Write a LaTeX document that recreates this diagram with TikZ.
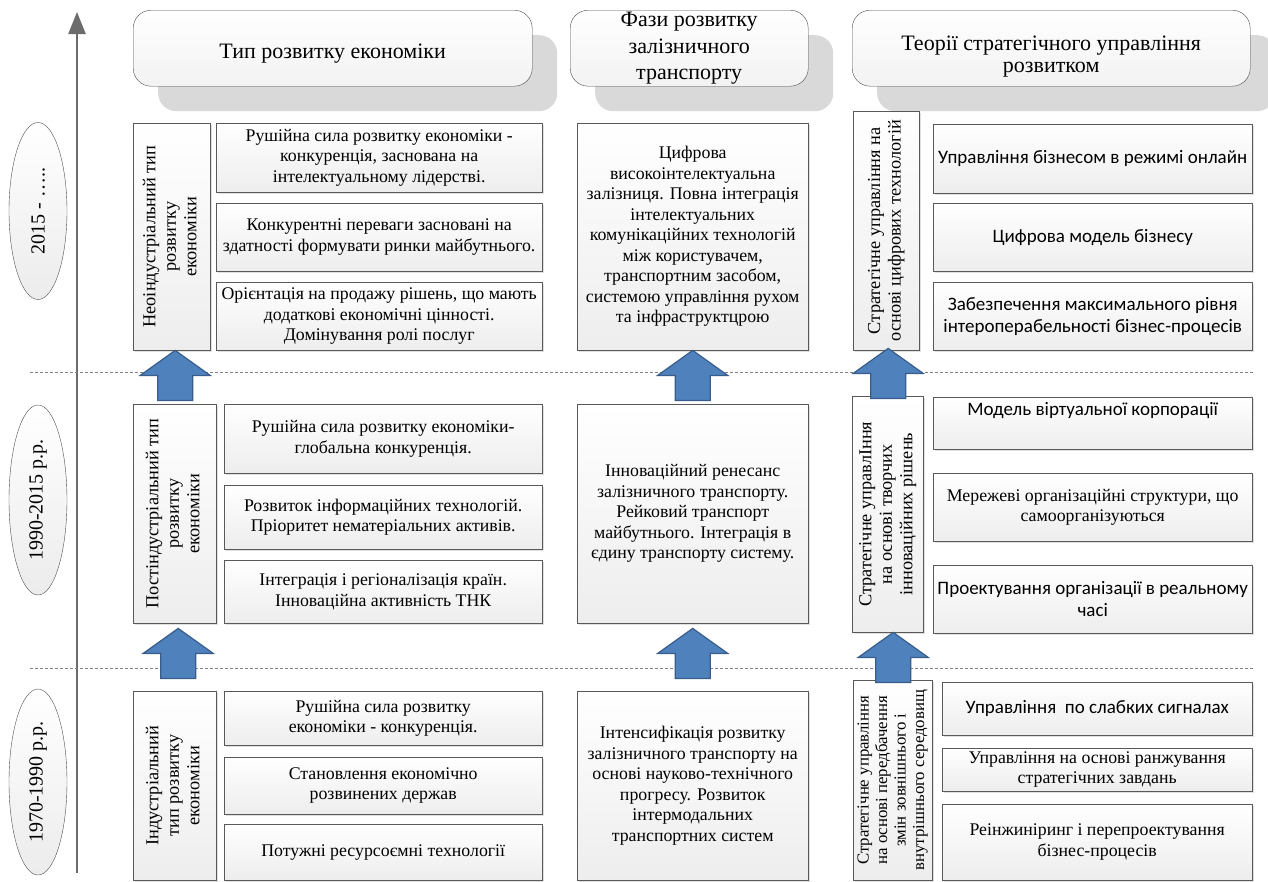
\documentclass[tikz,border=0pt]{standalone}
\usepackage{fontspec}
\setmainfont{Liberation Serif}
\newfontfamily\calib{Carlito}
\usetikzlibrary{shapes.geometric,shadows,arrows.meta}

\definecolor{arrfill}{RGB}{79,129,189}
\definecolor{arrline}{RGB}{56,93,138}
\newcommand{\txt}{\fontsize{17.8}{20.5}\selectfont}
\newcommand{\vtext}[1]{\rotatebox{90}{\begin{tabular}{@{}c@{}}#1\end{tabular}}}
% block arrow, tip under the upper node
\newcommand{\growarrow}[2]{%
  \draw[bluearrow] ([shift={#2}]#1.south) -- ++(35,25) -- ++(-17.5,0) -- ++(0,25)
    -- ++(-35,0) -- ++(0,-25) -- ++(-17.5,0) -- cycle;}

\tikzset{
  cell/.style={draw=gray!70!black, top color=white, bottom color=gray!14,
    drop shadow={shadow xshift=2pt, shadow yshift=-2pt, opacity=0.3, fill=black!40},
    anchor=north west, inner sep=0pt, align=center, font=\txt},
  sz/.style 2 args={minimum width=#1pt, minimum height=#2pt},
  sans/.style={font=\calib\fontsize{19}{22}\selectfont},
  head/.style={draw=gray!60!black, rounded corners=18pt, top color=white, bottom color=gray!10,
    drop shadow={shadow xshift=25pt, shadow yshift=-25pt, fill=gray!30, opacity=1},
    anchor=north west, inner sep=0pt, align=center, font=\fontsize{22}{22}\selectfont},
  period/.style={ellipse, draw=gray!60!black, top color=white, bottom color=gray!15,
    inner sep=0pt, minimum width=58pt, font=\fontsize{20}{24}\selectfont},
  bluearrow/.style={fill=arrfill, draw=arrline, line width=1.2pt, line join=miter},
  era/.style={gray, dash pattern=on 3pt off 2pt, line width=0.6pt}
}

\begin{document}
\begin{tikzpicture}[x=1pt,y=-1pt]
    \useasboundingbox (0,0) rectangle (1268,881);

    % time axis
    \draw[gray!85!black, line width=2.5pt, -{Triangle[length=22pt,width=17pt]}] (77,873) -- (77,12);
    \foreach \y in {372,668}
        \draw[era] (30,\y) -- (1253,\y);

    % periods
    \node[period, minimum height=177pt] (p1) at (38,211) {\rotatebox{90}{2015 - …..}};
    \node[period, minimum height=190pt] (p2) at (38,500) {\rotatebox{90}{1990-2015 р.р.}};
    \node[period, minimum height=186pt] (p3) at (38,782) {\rotatebox{90}{1970-1990 р.р.}};

    % headers
    \node[head, sz={399}{76}] (h1) at (133,10) {\rule{0pt}{25pt}Тип розвитку економіки};
    \node[head, sz={238}{76}, font=\fontsize{22}{26.5}\selectfont] (h2) at (570,10)
        {Фази розвитку\\залізничного\\транспорту};
    \node[head, sz={398}{76}] (h3) at (852,10) {\rule{0pt}{31pt}Теорії стратегічного управління\\розвитком};

    % type of economy
    \node[cell, sz={77}{227}, font=\fontsize{18.3}{20.5}\selectfont] (L1) at (133,123)
        {\vtext{Неоіндустріальний тип\\розвитку\\економіки}};
    \node[cell, sz={326}{69}] (e11) at (216,123)
        {Рушійна сила розвитку економіки -\\конкуренція, заснована на\\інтелектуальному лідерстві.};
    \node[cell, sz={326}{68}] (e12) at (216,203)
        {Конкурентні переваги засновані на\\здатності формувати ринки майбутнього.};
    \node[cell, sz={326}{68}] (e13) at (216,282)
        {Орієнтація на продажу рішень, що мають\\додаткові економічні цінності.\\Домінування ролі послуг};
    \node[cell, sz={83}{219}, font=\fontsize{18.3}{20.5}\selectfont] (L2) at (133,404)
        {\vtext{Постіндустріальний тип\\розвитку\\економіки}};
    \node[cell, sz={318}{69}] (e21) at (224,404)
        {Рушійна сила розвитку економіки-\\глобальна конкуренція.};
    \node[cell, sz={318}{64}] (e22) at (224,485)
        {Розвиток інформаційних технологій.\\Пріоритет нематеріальних активів.};
    \node[cell, sz={318}{63}] (e23) at (224,560)
        {Інтеграція і регіоналізація країн.\\Інноваційна активність ТНК};
    \node[cell, sz={83}{189}, font=\fontsize{18.3}{20.5}\selectfont] (L3) at (133,691)
        {\vtext{Індустріальний\\тип розвитку\\економіки}};
    \node[cell, sz={318}{54}] (e31) at (224,691) {Рушійна сила розвитку\\економіки - конкуренція.};
    \node[cell, sz={318}{57}] (e32) at (224,757) {Становлення економічно\\розвинених держав};
    \node[cell, sz={318}{56}] (e33) at (224,824) {Потужні ресурсоємні технології};

    % railway phases
    \node[cell, sz={231}{227}] (r1) at (577,123)
        {Цифрова\\високоінтелектуальна\\залізниця. Повна інтеграція\\інтелектуальних\\комунікаційних технологій\\між користувачем,\\транспортним засобом,\\системою управління рухом\\та інфраструктцрою};
    \node[cell, sz={231}{219}] (r2) at (577,404)
        {Інноваційний ренесанс\\залізничного транспорту.\\Рейковий транспорт\\майбутнього. Інтеграція в\\єдину транспорту систему.};
    \node[cell, sz={231}{189}] (r3) at (577,691)
        {Інтенсифікація розвитку\\залізничного транспорту на\\основі науково-технічного\\прогресу. Розвиток\\інтермодальних\\транспортних систем};

    % strategic management
    \node[cell, sz={66}{239}, font=\fontsize{18.3}{20.5}\selectfont] (S1) at (853,111)
        {\vtext{Стратегічне управління на\\основі цифрових технологій}};
    \node[cell, sans, sz={319}{69}] (t11) at (933,124) {Управління бізнесом в режимі онлайн};
    \node[cell, sans, sz={319}{68}] (t12) at (933,203) {Цифрова модель бізнесу};
    \node[cell, sans, sz={319}{68}] (t13) at (933,282)
        {Забезпечення максимального рівня\\інтероперабельності бізнес-процесів};
    \node[cell, sz={71}{236}, font=\fontsize{18.3}{20.5}\selectfont] (S2) at (852,396)
        {\vtext{Стратегічне управлІння\\на основі творчих\\інноваційних рішень}};
    \node[cell, sans, sz={319}{52}] (t21) at (933,397) {Модель віртуальної корпорації\\\strut};
    \node[cell, sz={319}{68}] (t22) at (933,473)
        {Мережеві організаційні структури, що\\самоорганізуються};
    \node[cell, sans, sz={319}{68}] (t23) at (933,565) {Проектування організації в реальному\\часі};
    \node[cell, sz={79}{200}, font=\fontsize{16.8}{18.5}\selectfont] (S3) at (853,680)
        {\vtext{Стратегічне управління\\на основі передбачення\\змін зовнішнього і\\внутрішнього середовищ}};
    \node[cell, sans, sz={310}{53}] (t31) at (942,682) {Управління\ \ по слабких сигналах};
    \node[cell, sz={310}{43}] (t32) at (942,748) {Управління на основі ранжування\\стратегічних завдань};
    \node[cell, sz={310}{76}] (t33) at (942,804) {Реінжиніринг і перепроектування\\бізнес-процесів};

    % development arrows
    \foreach \n/\s in {L1/{(3.5,0)}, L2/{(3.5,5)}, r1/{(0,0)}, r2/{(0,5)}, S1/{(2,-2)}, S2/{(5.5,0)}} {
        \growarrow{\n}{\s}
    }
\end{tikzpicture}
\end{document}
